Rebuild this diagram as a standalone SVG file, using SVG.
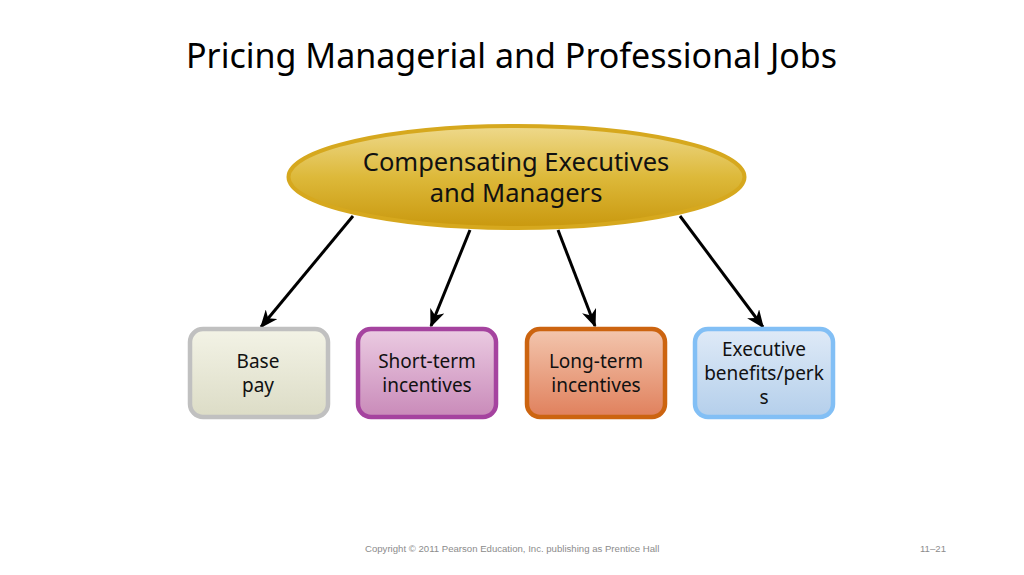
<svg xmlns="http://www.w3.org/2000/svg" width="1024" height="575" viewBox="0 0 1024 575">
<defs>
<linearGradient id="gEll" x1="0" y1="0" x2="0" y2="1">
<stop offset="0" stop-color="#eed98c"/><stop offset="0.5" stop-color="#ddb93a"/><stop offset="1" stop-color="#c9980e"/>
</linearGradient>
<linearGradient id="gBase" x1="0" y1="0" x2="0" y2="1">
<stop offset="0" stop-color="#f3f3e6"/><stop offset="1" stop-color="#dcdcc6"/>
</linearGradient>
<linearGradient id="gShort" x1="0" y1="0" x2="0" y2="1">
<stop offset="0" stop-color="#ebcbe2"/><stop offset="1" stop-color="#c98ab9"/>
</linearGradient>
<linearGradient id="gLong" x1="0" y1="0" x2="0" y2="1">
<stop offset="0" stop-color="#f3c6ae"/><stop offset="1" stop-color="#e0805c"/>
</linearGradient>
<linearGradient id="gExec" x1="0" y1="0" x2="0" y2="1">
<stop offset="0" stop-color="#dfeaf7"/><stop offset="1" stop-color="#b4cfeb"/>
</linearGradient>
<marker id="arr" viewBox="0 0 12 10" refX="11" refY="5" markerWidth="6" markerHeight="5" orient="auto" markerUnits="strokeWidth">
<path d="M0,0 L12,5 L0,10 L3.5,5 z" fill="#000"/>
</marker>
</defs>
<style>
.title{font-family:"Noto Sans","Open Sans",sans-serif;font-size:34px;fill:#000}
.lbl{font-family:"Noto Sans","Open Sans",sans-serif;fill:#111;text-anchor:middle}
.big{font-size:25.5px}
.sm{font-size:19px}
.box{stroke-width:4.5}
.conn line{stroke:#000;stroke-width:3;marker-end:url(#arr)}
.foot{font-family:"Liberation Sans",Arial,sans-serif;font-size:9.6px;fill:#8c8c8c}
</style>
<rect width="1024" height="575" fill="#fff"/>
<text class="title" x="186" y="68" textLength="651" lengthAdjust="spacingAndGlyphs">Pricing Managerial and Professional Jobs</text>
<g id="connectors" class="conn">
<line x1="353" y1="216" x2="261" y2="327"/>
<line x1="470" y1="230" x2="431" y2="326"/>
<line x1="558" y1="230" x2="595" y2="326"/>
<line x1="680" y1="216" x2="763" y2="327"/>
</g>
<g id="root">
<ellipse cx="516.5" cy="177" rx="228" ry="51" fill="url(#gEll)" stroke="#d6a81e" stroke-width="4"/>
<text class="lbl big" x="516" y="171">Compensating Executives</text>
<text class="lbl big" x="516" y="202">and Managers</text>
</g>
<g id="base">
<rect class="box" x="190" y="329" width="138" height="88" rx="13" fill="url(#gBase)" stroke="#c0c0c0"/>
<text class="lbl sm" x="258" y="368">Base</text>
<text class="lbl sm" x="258" y="392">pay</text>
</g>
<g id="short">
<rect class="box" x="358" y="329" width="138" height="88" rx="13" fill="url(#gShort)" stroke="#a5439f"/>
<text class="lbl sm" x="427" y="368">Short-term</text>
<text class="lbl sm" x="427" y="392">incentives</text>
</g>
<g id="long">
<rect class="box" x="527" y="329" width="138" height="88" rx="13" fill="url(#gLong)" stroke="#cc6410"/>
<text class="lbl sm" x="596" y="368">Long-term</text>
<text class="lbl sm" x="596" y="392">incentives</text>
</g>
<g id="exec">
<rect class="box" x="695" y="329" width="138" height="88" rx="13" fill="url(#gExec)" stroke="#82bff5"/>
<text class="lbl sm" x="764" y="356">Executive</text>
<text class="lbl sm" x="764" y="380">benefits/perk</text>
<text class="lbl sm" x="764" y="404">s</text>
</g>
<text class="foot" x="365" y="552">Copyright © 2011 Pearson Education, Inc. publishing as Prentice Hall</text>
<text class="foot" x="920" y="552">11–21</text>
</svg>
